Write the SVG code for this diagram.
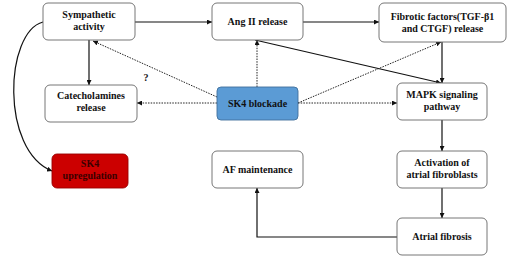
<svg xmlns="http://www.w3.org/2000/svg" width="508" height="260" viewBox="0 0 508 260">
<defs>
<marker id="ah" viewBox="0 0 10 10" refX="10" refY="5" markerWidth="5" markerHeight="5" orient="auto" markerUnits="userSpaceOnUse"><path d="M0,0 L10,5 L0,10 z" fill="#111"/></marker>
<style>
.box{fill:#fff;stroke:#666;stroke-width:0.9}
.t{font-family:"Liberation Serif","Times New Roman",serif;font-weight:bold;font-size:10px;fill:#111;text-anchor:middle}
.c{fill:none;stroke:#111;stroke-width:1.2;marker-end:url(#ah)}
.d{fill:none;stroke:#222;stroke-width:1;stroke-dasharray:1.5,1.2;marker-end:url(#ah)}
</style>
</defs>
<rect width="508" height="260" fill="#fff"/>
<g id="connectors">
<line class="c" x1="135" y1="22" x2="212" y2="22"/>
<line class="c" x1="303" y1="22" x2="379" y2="22"/>
<line class="c" x1="89" y1="40" x2="89" y2="85"/>
<path class="c" d="M43,22 C5,32 0,150 52,171"/>
<line class="c" x1="255" y1="40" x2="441" y2="83"/>
<line class="c" x1="442" y1="42" x2="442" y2="83"/>
<line class="c" x1="442" y1="120" x2="442" y2="151"/>
<line class="c" x1="442" y1="188" x2="442" y2="218"/>
<polyline class="c" points="397,237 257,237 257,188"/>
<line class="d" x1="217" y1="97" x2="93" y2="41"/>
<line class="d" x1="217" y1="103" x2="137" y2="103"/>
<line class="d" x1="257" y1="87" x2="257" y2="40"/>
<line class="d" x1="298" y1="103" x2="441" y2="42"/>
<line class="d" x1="298" y1="103" x2="397" y2="103"/>
<text class="t" x="146" y="81">?</text>
</g>
<g id="sympathetic"><rect class="box" x="43" y="3" width="92" height="37" rx="5"/><text class="t" x="89" y="18">Sympathetic</text><text class="t" x="89" y="30">activity</text></g>
<g id="angii"><rect class="box" x="212" y="3" width="91" height="37" rx="5"/><text class="t" x="257.5" y="25">Ang II release</text></g>
<g id="fibrotic"><rect class="box" x="379" y="3" width="127" height="39" rx="5"/><text class="t" x="442.5" y="20">Fibrotic factors(TGF-β1</text><text class="t" x="442.5" y="32">and CTGF) release</text></g>
<g id="catecholamines"><rect class="box" x="45" y="85" width="92" height="37" rx="5"/><text class="t" x="91" y="99">Catecholamines</text><text class="t" x="91" y="111">release</text></g>
<g id="sk4blockade"><rect x="217" y="87" width="81" height="33" rx="4" fill="#5b9bd5" stroke="#41719c" stroke-width="0.9"/><text class="t" x="257.5" y="107">SK4 blockade</text></g>
<g id="mapk"><rect class="box" x="397" y="83" width="90" height="37" rx="5"/><text class="t" x="442" y="98">MAPK signaling</text><text class="t" x="442" y="110">pathway</text></g>
<g id="sk4up"><rect x="52" y="154" width="76" height="34" rx="5" fill="#cc0000" stroke="#990000" stroke-width="0.9"/><text class="t" x="90" y="167" style="fill:#3a0000">SK4</text><text class="t" x="90" y="179" style="fill:#3a0000">upregulation</text></g>
<g id="afmaint"><rect class="box" x="212" y="151" width="91" height="37" rx="5"/><text class="t" x="257.5" y="173">AF maintenance</text></g>
<g id="activation"><rect class="box" x="397" y="151" width="90" height="37" rx="5"/><text class="t" x="442" y="166">Activation of</text><text class="t" x="442" y="178">atrial fibroblasts</text></g>
<g id="fibrosis"><rect class="box" x="397" y="218" width="90" height="37" rx="5"/><text class="t" x="442" y="240">Atrial fibrosis</text></g>
</svg>
